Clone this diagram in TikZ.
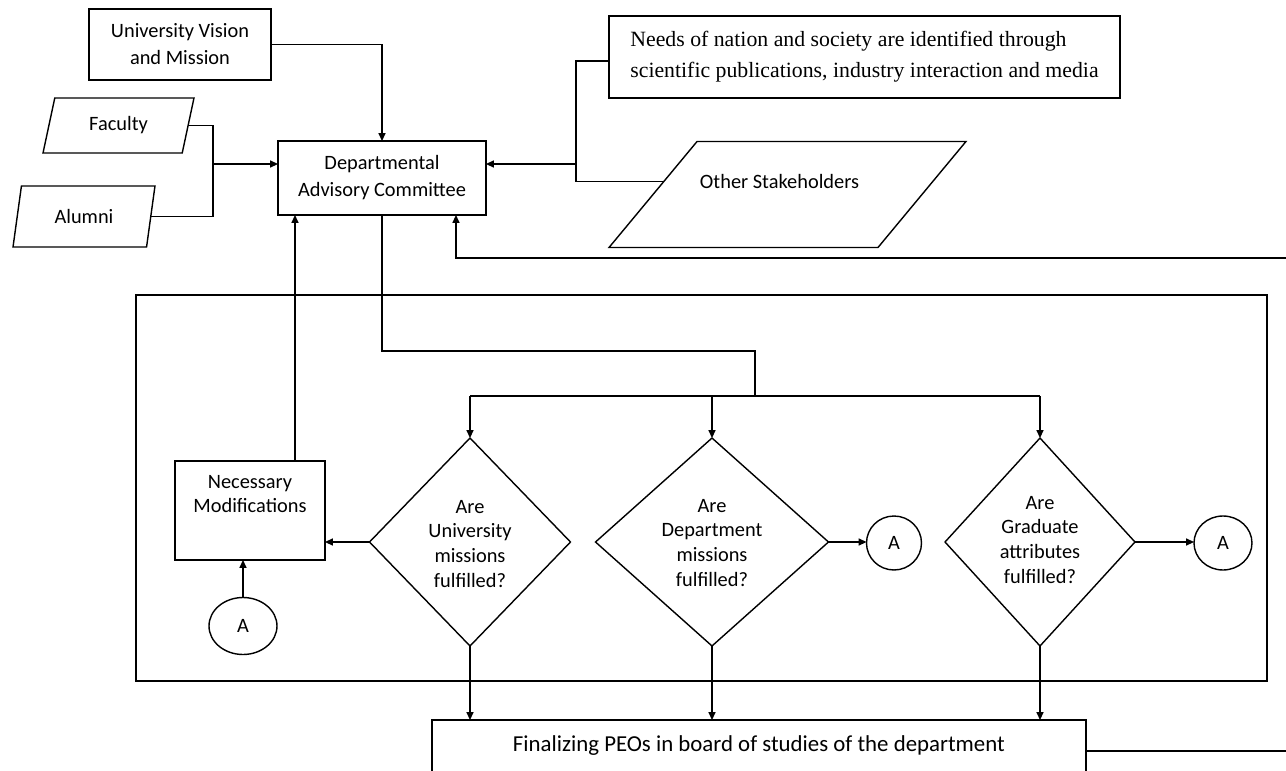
\documentclass[tikz,border=0pt]{standalone}
\usepackage{fontspec}
\setmainfont{Carlito}
\newfontfamily\needsfont{Liberation Serif}
\usetikzlibrary{shapes.geometric,arrows.meta,calc}
\begin{document}
\begin{tikzpicture}[x=0.02cm,y=-0.02cm,line width=0.8pt,
  every node/.style={font=\fontsize{11.6}{15.3}\selectfont, line width=0.8pt, inner sep=0pt, outer sep=0pt},
  box/.style={draw, rectangle, align=center},
  para/.style={draw, trapezium, trapezium stretches body},
  dia/.style={draw, diamond, minimum height=4.16cm},
  conn/.style={draw, ellipse},
  dlab/.style={align=center, font=\fontsize{11.6}{14.2}\selectfont},
  arr/.style={-{Triangle[length=4.5pt,width=4pt]}}]
\useasboundingbox (0,0) rectangle (1286,771);
\fill[white] (0,0) rectangle (1286,771);
\clip (0,0) rectangle (1286,771);

% top nodes
\node[box, minimum width=3.64cm, minimum height=1.42cm] (uv) at (180,44.5) {University Vision\\and Mission};
\node[box, minimum width=4.16cm, minimum height=1.48cm] (dac) at (382,178) {Departmental\\Advisory Committee};
\node[box, minimum width=10.22cm, minimum height=1.64cm, align=left,
  font=\needsfont\fontsize{12.4}{17.6}\selectfont] (needs) at (864.5,57)
  {Needs of nation and society are identified through\\scientific publications, industry interaction and media};
\node[para, trapezium left angle=56, trapezium right angle=124, minimum width=3.02cm, minimum height=1.1cm] (fac) at (118.5,125.5) {Faculty};
\node[para, trapezium left angle=59.5, trapezium right angle=120.5, minimum width=2.84cm, minimum height=1.22cm] (alu) at (84,216.5) {Alumni};
\node[para, trapezium left angle=50.3, trapezium right angle=129.7, minimum width=7.14cm, minimum height=2.12cm,
  text height=0.93cm, text depth=1.19cm] (oth) at (787.5,194.5) {Other Stakeholders\hspace*{0.32cm}};

% container
\draw (136,295) rectangle (1267,681);

% inner nodes
\node[box, minimum width=3cm, minimum height=1.98cm,
  label={[anchor=north, yshift=-0.28cm, align=center, font=\fontsize{11.6}{14}\selectfont]north:Necessary\\Modifications}] (nm) at (250,510.5) {};
\node[dia, minimum width=4.02cm, label={[dlab, yshift=-0.04cm]center:Are\\University\\missions\\fulfilled?}] (d1) at (470,542) {};
\node[dia, minimum width=4.66cm, label={[dlab, yshift=-0.02cm]center:Are\\Department\\missions\\fulfilled?}] (d2) at (712,542) {};
\node[dia, minimum width=3.8cm, label={[dlab, yshift=0.04cm]center:Are\\Graduate\\attributes\\fulfilled?}] (d3) at (1040,542) {};
\node[conn, minimum width=1.36cm, minimum height=1.14cm] (a1) at (243,626) {A};
\node[conn, minimum width=1.1cm, minimum height=1.08cm] (a2) at (894,543) {A};
\node[conn, minimum width=1.16cm, minimum height=1.08cm] (a3) at (1223,543) {A};

\node[draw, anchor=north west, minimum width=13.08cm, text height=0.62cm, text depth=1.6cm,
  font=\fontsize{13}{15}\selectfont] (fin) at (432,720)
  {Finalizing PEOs in board of studies of the department};

% connectors
\draw[arr] (uv.east) -| (dac.north);
\coordinate (jl) at (213,164);
\draw (fac.east) -| (jl) |- (alu.east);
\draw[arr] (jl) -- (jl -| dac.west);
\coordinate (jr) at (576,164);
\draw ([yshift=-0.08cm]needs.west) -| (jr) |- (oth.174);
\draw[arr] (jr) -- (jr -| dac.east);
\draw[arr] (fin.base east) -| (1310,258) -| ([xshift=1.48cm]dac.south);

\coordinate (sp) at (755,396);
\draw (dac.south) |- (755,351) -- (sp);
\draw (sp -| d1.north) -- (sp -| d3.north);
\foreach \nn in {d1,d2,d3} {
  \draw[arr] (sp -| \nn.north) -- (\nn.north);
  \draw[arr] (\nn.south) -- (\nn.south |- fin.north);
}
\draw[arr] (d1.west) -- (d1.west -| nm.east);
\draw[arr] (d2.east) -- (d2.east -| a2.west);
\draw[arr] (d3.east) -- (d3.east -| a3.west);
\draw[arr] (a1.north) -- (a1.north |- nm.south);
\draw[arr] ([xshift=0.9cm]nm.north) -- ([xshift=0.9cm]nm.north |- dac.south);
\end{tikzpicture}
\end{document}
